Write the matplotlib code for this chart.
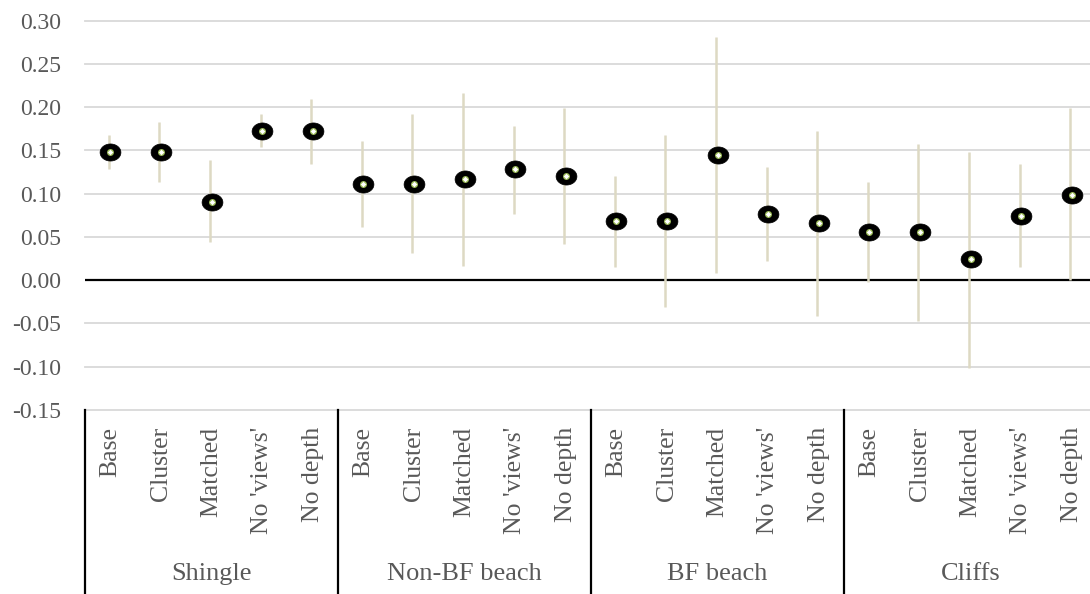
import matplotlib
matplotlib.use("Agg")
import matplotlib.pyplot as plt
import matplotlib.transforms as mtransforms
from matplotlib.path import Path
import numpy as np

groups = ["Shingle", "Non-BF beach", "BF beach", "Cliffs"]
models = ["Base", "Cluster", "Matched", "No 'views'", "No depth"]

estimate = [0.148, 0.148, 0.091, 0.173, 0.172,
            0.111, 0.111, 0.117, 0.128, 0.121,
            0.068, 0.068, 0.145, 0.077, 0.066,
            0.056, 0.056, 0.024, 0.074, 0.099]
lower = [0.129, 0.114, 0.044, 0.154, 0.134,
         0.062, 0.032, 0.017, 0.077, 0.042,
         0.015, -0.031, 0.008, 0.022, -0.041,
         -0.002, -0.047, -0.101, 0.015, 0.000]
upper = [0.168, 0.183, 0.139, 0.192, 0.209,
         0.161, 0.192, 0.217, 0.178, 0.199,
         0.121, 0.168, 0.281, 0.131, 0.173,
         0.114, 0.158, 0.148, 0.134, 0.199]

plt.rcParams["font.family"] = ["Liberation Serif", "DejaVu Serif"]
text_col = "#595959"

fig = plt.figure(figsize=(10.9, 5.94), dpi=100)
ax = fig.add_axes([85 / 1090, 1 - 410 / 594, (1097 - 85) / 1090, (410 - 20.7) / 594])

x = np.arange(len(estimate))
labels = models * len(groups)

# grid and zero line
yticks = np.round(np.arange(-0.15, 0.301, 0.05), 2)
for yt in yticks:
    if abs(yt) < 1e-9:
        continue
    ax.axhline(yt, color="#d9d9d9", lw=1.3, zorder=0, clip_on=False)
ax.axhline(0, color="black", lw=1.6, zorder=1)

# confidence intervals
ax.vlines(x - 0.03, lower, upper, color="#ddd9c3", lw=1.8, zorder=2)

# ellipse marker for the point estimates
t = np.linspace(0, 2 * np.pi, 60)
ell = Path(np.column_stack([np.cos(t), 0.82 * np.sin(t)]), closed=True)
ax.plot(x, estimate, ls="none", marker=ell, ms=15, mfc="black", mec="black",
        mew=0.5, zorder=3)
ax.plot(x, estimate, ls="none", marker="o", ms=5, mfc="#9bbb59", mec="none", zorder=4)
ax.plot(x, estimate, ls="none", marker="D", ms=2.8, mfc="white", mec="none", zorder=5)

ax.set_xlim(-0.5, len(estimate) - 0.5)
ax.set_ylim(-0.15, 0.30)
ax.set_yticks(yticks)
ax.set_yticklabels([f"{v:.2f}" for v in yticks])
ax.set_xticks(x)
ax.set_xticklabels(labels, rotation=90, va="top", ha="center")
ax.tick_params(axis="y", length=0, pad=17, labelsize=17, labelcolor=text_col)
ax.tick_params(axis="x", length=0, pad=12, labelsize=18.5, labelcolor=text_col)
for s in ax.spines.values():
    s.set_visible(False)

# group separators and group names under the axis
trans = mtransforms.blended_transform_factory(ax.transData, fig.transFigure)
n = len(models)
for i in range(len(groups) + 1):
    xs = i * n - 0.5
    ax.plot([xs, xs], [0, 1 - 410 / 594], color="black", lw=1.6,
            transform=trans, clip_on=False)
for i, g in enumerate(groups):
    ax.text(i * n + (n - 1) / 2, 1 - 574 / 594, g, transform=trans,
            ha="center", va="center", fontsize=19, color=text_col)

fig.savefig("out.png", dpi=100)
